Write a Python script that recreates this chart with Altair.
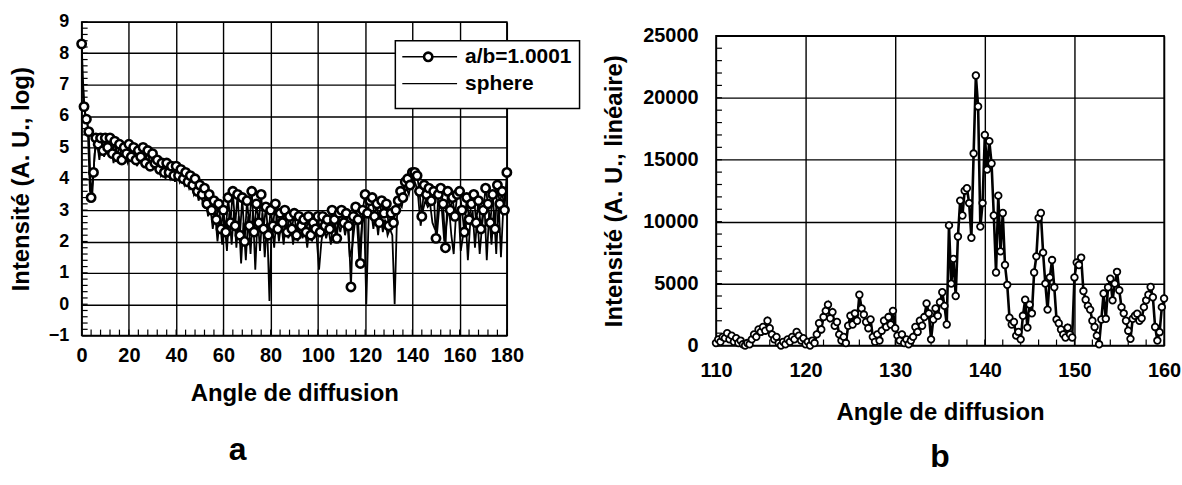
import altair as alt
import pandas as pd

FONT = "Liberation Sans"

# ---------------- Panel a (log intensity vs angle) ----------------
ab_angle = list(range(0, 181))
ab_val = [
    8.3, 6.3, 5.9, 5.5, 3.4, 4.2, 5.3, 5.1, 5.3, 4.9,
    5.3, 5.0, 5.3, 4.8, 5.2, 4.7, 5.1, 4.6, 5.0, 4.8,
    5.1, 4.7, 5.0, 4.6, 4.9, 4.7, 5.0, 4.5, 4.9, 4.4,
    4.8, 4.5, 4.6, 4.3, 4.5, 4.2, 4.5, 4.2, 4.4, 4.1,
    4.4, 4.1, 4.3, 4.0, 4.2, 3.9, 4.1, 3.8, 4.0, 3.6,
    3.8, 3.5, 3.7, 3.2, 3.5, 3.0, 3.3, 2.7, 3.2, 2.4,
    3.0, 2.3, 3.4, 2.6, 3.6, 2.5, 3.5, 2.2, 3.4, 2.0,
    3.3, 2.5, 3.6, 2.3, 3.2, 2.6, 3.5, 2.4, 3.1, 2.2,
    3.0, 2.5, 3.2, 2.4, 2.9, 2.6, 3.0, 2.3, 2.8, 2.4,
    2.9, 2.2, 2.8, 2.5, 2.7, 2.3, 2.8, 2.2, 2.6, 2.4,
    2.8, 2.3, 2.8, 2.5, 2.7, 2.4, 3.0, 2.7, 2.1, 2.9,
    3.0, 2.6, 2.9, 2.5, 0.55, 2.8, 3.1, 2.7, 1.3, 3.0,
    3.5, 2.9, 3.3, 3.4, 2.8, 3.2, 2.6, 3.3, 2.9, 3.2,
    2.5, 2.9, 2.6, 3.0, 3.3, 3.6, 3.4, 3.9, 4.0, 3.8,
    4.2, 4.2, 4.1, 3.6, 2.8, 3.8, 3.5, 3.7, 3.3, 3.6,
    2.1, 3.5, 3.7, 3.2, 1.8, 3.6, 3.0, 3.4, 2.8, 3.5,
    3.6, 3.0, 2.3, 3.4, 2.7, 3.2, 3.5, 2.6, 3.3, 2.4,
    3.0, 3.7, 3.2, 2.6, 3.5, 2.4, 3.8, 3.2, 3.6, 3.0, 4.2,
]
sphere_angle = [k + 0.5 for k in range(0, 180)]
sphere_val = [
    7.0, 6.0, 5.8, 3.6, 3.5, 4.8, 5.2, 4.6, 5.2, 4.7,
    5.1, 4.8, 5.0, 4.5, 5.0, 4.5, 4.8, 4.6, 4.7, 4.5,
    4.8, 4.6, 4.7, 4.4, 4.8, 4.5, 4.6, 4.5, 4.6, 4.3,
    4.6, 4.3, 4.4, 4.1, 4.3, 4.0, 4.3, 4.0, 4.2, 3.9,
    4.2, 3.9, 4.1, 3.8, 4.0, 3.7, 3.9, 3.5, 3.7, 3.3,
    3.6, 3.1, 3.4, 2.8, 3.1, 2.4, 2.9, 2.0, 2.7, 1.9,
    2.6, 1.7, 2.9, 1.9, 3.0, 1.8, 2.8, 1.3, 2.6, 1.4,
    2.8, 1.6, 3.0, 1.1, 2.8, 1.7, 2.9, 1.5, 2.6, 0.1,
    2.7, 1.8, 2.8, 2.0, 2.6, 1.9, 2.7, 2.1, 2.6, 1.9,
    2.5, 2.0, 2.6, 2.1, 2.4, 1.8, 2.5, 2.0, 2.4, 2.1,
    1.1, 2.0, 2.5, 2.1, 2.4, 1.9, 2.7, 2.2, 2.6, 2.3,
    2.7, 2.2, 2.6, 1.5, 1.8, 2.5, 2.7, 1.4, 2.4, 3.1,
    0.0, 2.8, 3.0, 2.4, 2.9, 2.2, 2.9, 2.3, 2.7, 2.2,
    2.4, 2.2, 0.0, 2.8, 3.2, 3.1, 3.5, 3.7, 3.5, 3.9,
    4.0, 3.8, 3.4, 2.5, 3.0, 3.3, 3.1, 3.2, 2.6, 2.4,
    2.3, 3.2, 3.0, 2.0, 2.6, 3.1, 2.2, 1.6, 2.9, 3.1,
    1.7, 2.2, 2.8, 1.4, 2.6, 3.0, 1.8, 2.8, 1.6, 2.5,
    3.2, 1.4, 2.9, 1.9, 3.0, 1.6, 3.3, 1.5, 3.1, 3.6,
]
legend_labels = ["a/b=1.0001", "sphere"]
a_xticks = list(range(0, 181, 20))
a_yticks = list(range(-1, 10))
a_minor_x = list(range(0, 181, 4))
a_minor_y = [round(-1 + 0.2 * i, 1) for i in range(51)]

# ---------------- Panel b (linear intensity, 110-160) ----------------
b_angle = [110 + 0.25 * i for i in range(201)]
b_val = [
    200, 500, 300, 700, 600, 1000, 500, 800,
    300, 600, 200, 400, 100, 0, 200, 100,
    500, 900, 700, 1300, 1100, 1500, 1200, 2000,
    1400, 900, 500, 700, 200, 0, 300, 100,
    500, 300, 700, 500, 1100, 800, 400, 600,
    100, 300, 0, 400, 200, 900, 1800, 1300,
    2300, 2800, 3300, 2200, 2700, 1600, 1900, 900,
    400, 700, 200, 1600, 2400, 1700, 2600, 2000,
    4100, 3000, 2500, 1900, 1400, 2100, 700, 300,
    900, 400, 1200, 2000, 1500, 2300, 1700, 2800,
    1400, 800, 400, 900, 200, 500, 100, 400,
    700, 1500, 1100, 2000, 1600, 2300, 3400, 2600,
    500, 2100, 3000, 2400, 3500, 4300, 3200, 1700,
    9700, 5000, 7000, 4000, 8800, 11700, 10500, 12500,
    12700, 11500, 8700, 15500, 21800, 19300, 9600, 11500,
    17000, 14200, 16500, 14700, 10500, 5900, 12100, 7600,
    10700, 6500, 4900, 2250, 1700, 1900, 800, 1100,
    500, 2400, 3700, 1450, 3300, 2600, 5900, 7200,
    10300, 10700, 7500, 5000, 2900, 5500, 6900, 4700,
    2100, 1800, 1300, 900, 650, 1450, 900, 650,
    5500, 6700, 6500, 7100, 4400, 3700, 3200, 2900,
    2000, 1500, 800, 100, 2100, 4200, 2160, 4700,
    5400, 3650, 5000, 5950, 4460, 3100, 2600, 2000,
    1200, 540, 2160, 2400, 2570, 2000, 2200, 3100,
    3650, 4100, 4730, 3900, 1500, 400, 1080, 3100,
    3800,
]
b_xticks = list(range(110, 161, 10))
b_yticks = list(range(0, 25001, 5000))
b_minor_x = list(range(110, 161, 2))
b_minor_y = list(range(0, 25001, 1000))

AW, AH = 427, 315
BW, BH = 450, 311

axis_common = dict(grid=True, gridColor="black", gridWidth=1.4, gridOpacity=1,
                   ticks=False, domain=False, labelFlush=False, labelOverlap=False,
                   labelFont=FONT, titleFont=FONT, labelFontWeight="bold",
                   titleFontWeight="bold", labelColor="black", titleColor="black")

xa = alt.X("angle:Q", scale=alt.Scale(domain=[0, 180], nice=False, zero=False),
           axis=alt.Axis(values=a_xticks, title="Angle de diffusion", labelPadding=10,
                         titlePadding=16, labelFontSize=20, titleFontSize=24, **axis_common))
ya = alt.Y("val:Q", scale=alt.Scale(domain=[-1, 9], nice=False, zero=False),
           axis=alt.Axis(values=a_yticks, title="Intensité (A. U., log)", labelPadding=13,
                         titlePadding=15, labelFontSize=18, titleFontSize=24, **axis_common))

one = pd.DataFrame({"k": [0]})

a_sphere = alt.Chart(pd.DataFrame({"angle": sphere_angle, "val": sphere_val})).mark_line(
    color="black", strokeWidth=1.8).encode(x=xa, y=ya)
a_ab_line = alt.Chart(pd.DataFrame({"angle": ab_angle, "val": ab_val})).mark_line(
    color="black", strokeWidth=1.8).encode(x=xa, y=ya)
a_ab_pts = alt.Chart(pd.DataFrame({"angle": ab_angle, "val": ab_val})).mark_point(
    shape="circle", filled=True, fill="white", stroke="black", strokeWidth=2.6,
    size=70, opacity=1).encode(x=xa, y=ya)
a_mx = alt.Chart(pd.DataFrame({"angle": a_minor_x})).mark_rule(
    color="black", strokeWidth=1.2).encode(x=xa, y=alt.value(AH), y2=alt.value(AH - 6))
a_my = alt.Chart(pd.DataFrame({"val": a_minor_y})).mark_rule(
    color="black", strokeWidth=1.2).encode(y=ya, x=alt.value(0), x2=alt.value(6))

leg_box = alt.Chart(one).mark_rect(fill="white", stroke="black", strokeWidth=1.5).encode(
    x=alt.value(315), x2=alt.value(500), y=alt.value(19), y2=alt.value(87))
leg_l1 = alt.Chart(one).mark_rule(color="black", strokeWidth=1.5).encode(
    x=alt.value(322), x2=alt.value(377), y=alt.value(35))
leg_p1 = alt.Chart(one).mark_point(shape="circle", filled=True, fill="white", stroke="black",
                                   strokeWidth=2.6, size=70, opacity=1).encode(
    x=alt.value(348), y=alt.value(35))
leg_l2 = alt.Chart(one).mark_rule(color="black", strokeWidth=1.2).encode(
    x=alt.value(322), x2=alt.value(377), y=alt.value(62))
leg_t1 = alt.Chart(pd.DataFrame({"label": [legend_labels[0]]})).mark_text(
    align="left", baseline="middle", font=FONT, fontSize=21, fontWeight="bold",
    color="black").encode(x=alt.value(385), y=alt.value(35), text="label:N")
leg_t2 = alt.Chart(pd.DataFrame({"label": [legend_labels[1]]})).mark_text(
    align="left", baseline="middle", font=FONT, fontSize=21, fontWeight="bold",
    color="black").encode(x=alt.value(385), y=alt.value(62), text="label:N")

left = alt.layer(a_mx, a_my, a_sphere, a_ab_line, a_ab_pts,
                 leg_box, leg_l1, leg_p1, leg_l2, leg_t1, leg_t2).properties(
    width=AW, height=AH,
    title=alt.TitleParams("a", orient="bottom", anchor="middle", frame="group", dx=-57,
                          offset=30, font=FONT, fontSize=32, fontWeight="bold", color="black"))

# ---------------- right panel ----------------
xb = alt.X("angle:Q", scale=alt.Scale(domain=[110, 160], nice=False, zero=False),
           axis=alt.Axis(values=b_xticks, title="Angle de diffusion", labelPadding=15,
                         titlePadding=20, labelFontSize=20, titleFontSize=24, **axis_common))
yb = alt.Y("val:Q", scale=alt.Scale(domain=[0, 25000], nice=False, zero=False),
           axis=alt.Axis(values=b_yticks, format="d", title="Intensité (A. U., linéaire)",
                         labelPadding=18, titlePadding=16, labelFontSize=20, titleFontSize=24,
                         **axis_common))

b_df = pd.DataFrame({"angle": b_angle, "val": b_val})
b_line = alt.Chart(b_df).mark_line(color="black", strokeWidth=2.6).encode(x=xb, y=yb)
b_pts = alt.Chart(b_df).mark_point(shape="circle", filled=True, fill="white", stroke="black",
                                   strokeWidth=1.8, size=44, opacity=1).encode(x=xb, y=yb)
b_mx = alt.Chart(pd.DataFrame({"angle": b_minor_x})).mark_rule(
    color="black", strokeWidth=1.2).encode(x=xb, y=alt.value(BH), y2=alt.value(BH - 6))
b_my = alt.Chart(pd.DataFrame({"val": b_minor_y})).mark_rule(
    color="black", strokeWidth=1.2).encode(y=yb, x=alt.value(0), x2=alt.value(6))

right = alt.layer(b_mx, b_my, b_line, b_pts).properties(
    width=BW, height=BH,
    title=alt.TitleParams("b", orient="bottom", anchor="middle", frame="group", dx=0,
                          offset=18, font=FONT, fontSize=32, fontWeight="bold", color="black"))

# thin invisible strip that lowers panel b relative to panel a
spacer = alt.Chart(one).mark_rule(opacity=0).encode(
    x=alt.value(0), x2=alt.value(1), y=alt.value(0)).properties(
    width=BW, height=2, view=alt.ViewBackground(stroke="transparent"))

right_col = alt.vconcat(spacer, right, spacing=0)

chart = alt.hconcat(left, right_col, spacing=20).properties(
    padding={"left": 8, "top": 11, "right": 0, "bottom": 0},
    background="white",
).configure_view(stroke="black", strokeWidth=1.5)

chart.save("out.html", embed_options={"renderer": "svg", "actions": False})
